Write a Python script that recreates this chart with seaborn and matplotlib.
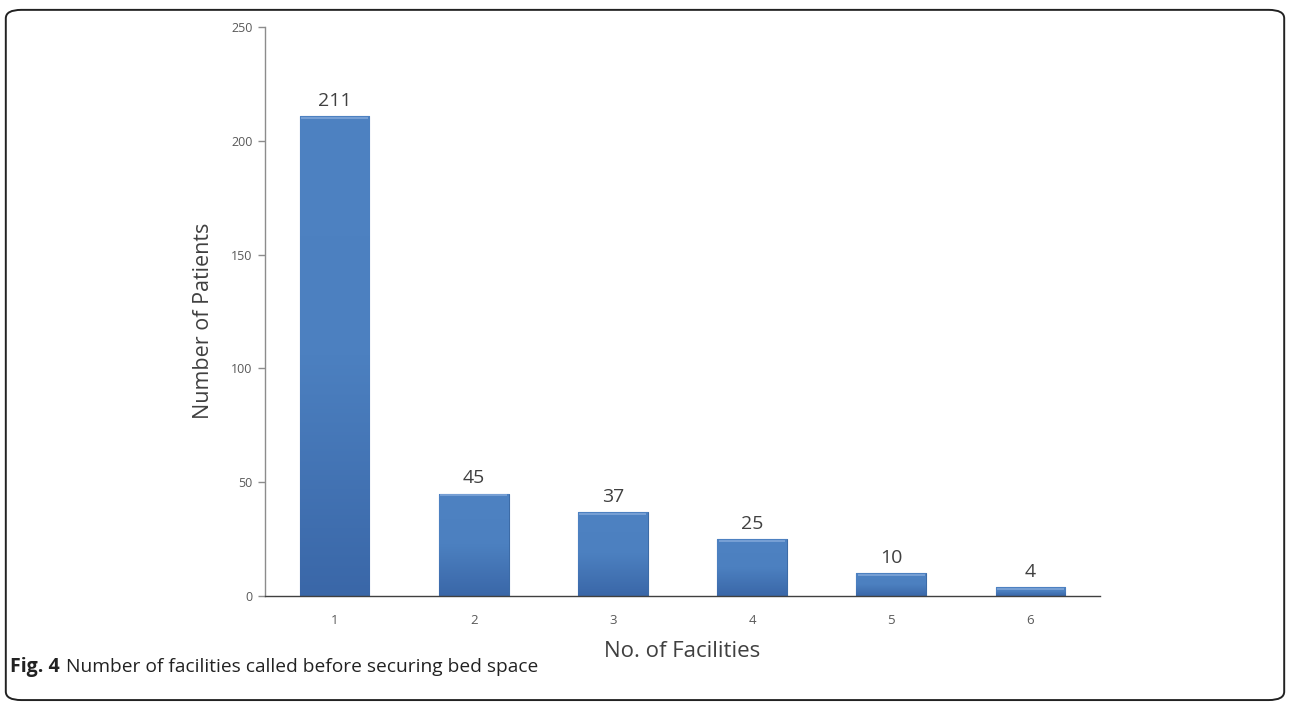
import numpy as np
import pandas as pd
import matplotlib
matplotlib.use("Agg")
import matplotlib.pyplot as plt
from matplotlib.patches import FancyBboxPatch
from matplotlib.colors import LinearSegmentedColormap
import seaborn as sns

facilities = ["1", "2", "3", "4", "5", "6"]
patients = [211, 45, 37, 25, 10, 4]
y_ticks = [0, 50, 100, 150, 200, 250]

sns.set_theme(style="white")
plt.rcParams["font.family"] = ["Open Sans", "DejaVu Sans"]

df = pd.DataFrame({"facilities": facilities, "patients": patients})

fig = plt.figure(figsize=(12.9, 7.05), dpi=100)
ax = fig.add_axes([0.2054, 0.1546, 0.6473, 0.8071])

sns.barplot(data=df, x="facilities", y="patients", color="#4A7EBB",
            width=0.5, ax=ax, edgecolor="#3C6BA6", linewidth=0.8)

# vertical gradient inside each bar
grad_cmap = LinearSegmentedColormap.from_list("bar", ["#3A67A8", "#4C80C0", "#4E82C2"])
grad = np.linspace(0, 1, 256).reshape(-1, 1)
for bar in ax.patches:
    x0, y0 = bar.get_x(), bar.get_y()
    w, h = bar.get_width(), bar.get_height()
    im = ax.imshow(grad, cmap=grad_cmap, aspect="auto", origin="lower",
                   extent=[x0, x0 + w, y0, y0 + h], zorder=bar.get_zorder() + 0.1)
    im.set_clip_path(bar)
    ax.plot([x0 + 0.01, x0 + w - 0.01], [y0 + h - 0.8, y0 + h - 0.8],
            color="#7FA6D8", lw=1.2, zorder=bar.get_zorder() + 0.2,
            solid_capstyle="butt")

for i, v in enumerate(patients):
    ax.text(i, v + 4.5, str(v), ha="center", va="baseline", fontsize=14, color="#404040")

ax.set_xlim(-0.5, len(facilities) - 0.5)
ax.set_ylim(0, 250)
ax.set_yticks(y_ticks)
ax.set_yticklabels([str(t) for t in y_ticks])

for side in ["top", "right"]:
    ax.spines[side].set_visible(False)
ax.spines["left"].set_color("#8C8C8C")
ax.spines["bottom"].set_color("#404040")
ax.spines["left"].set_linewidth(1.0)
ax.spines["bottom"].set_linewidth(1.0)

ax.tick_params(axis="y", which="both", left=True, length=5, width=1,
               color="#8C8C8C", labelsize=9, labelcolor="#595959", pad=4)
ax.tick_params(axis="x", bottom=False, labelsize=9.5, labelcolor="#595959", pad=7)

ax.set_xlabel("No. of Facilities", fontsize=16, color="#404040")
ax.set_ylabel("Number of Patients", fontsize=15.5, color="#404040")
ax.xaxis.set_label_coords(0.5, -0.098)
ax.xaxis.label.set_va("center")
ax.yaxis.set_label_coords(-0.074, 0.483)
ax.yaxis.label.set_va("center")

# caption: bold figure number followed by the description
cap_y = 0.0545
t1 = fig.text(0.0078, cap_y, "Fig. 4", fontsize=14, fontweight="bold", color="#222222",
              ha="left", va="center")
fig.canvas.draw()
bb = t1.get_window_extent(renderer=fig.canvas.get_renderer())
x_next = (bb.x1 + 6) / fig.bbox.width
fig.text(x_next, cap_y, "Number of facilities called before securing bed space",
         fontsize=13.8, color="#222222", ha="left", va="center")

# rounded frame around the figure
frame = FancyBboxPatch((0.0045, 0.007), 0.991, 0.979,
                       boxstyle="round,pad=0,rounding_size=0.012",
                       transform=fig.transFigure, fill=False,
                       edgecolor="#222222", linewidth=1.4)
fig.patches.append(frame)

fig.savefig("out.png", dpi=100)
